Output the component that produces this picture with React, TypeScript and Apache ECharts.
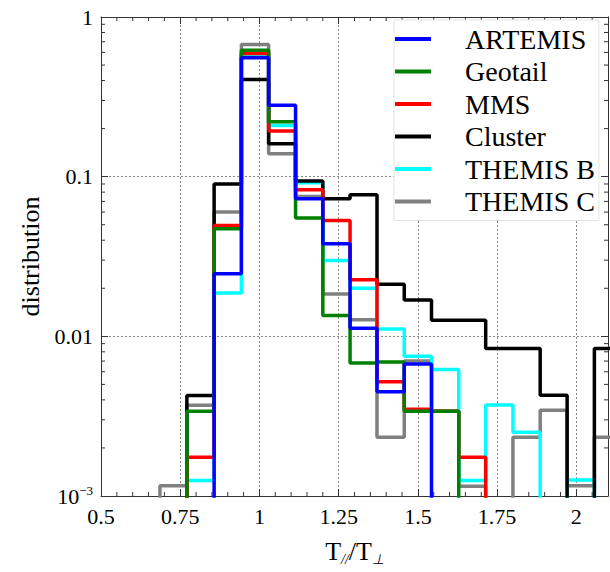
import React, { useEffect, useRef } from "react";
import * as echarts from "echarts";

// Bin edges of the histogram (T_par / T_perp)
const binEdges = [
  0.686, 0.771, 0.857, 0.943, 1.029, 1.114, 1.2, 1.286, 1.371, 1.457, 1.543,
  1.629, 1.714, 1.8, 1.886, 1.971, 2.057, 2.143,
];

const seriesNames = ["ARTEMIS", "Geotail", "MMS", "Cluster", "THEMIS B", "THEMIS C"];
const seriesColors = ["#0000ff", "#008000", "#ff0000", "#000000", "#00ffff", "#808080"];

// distribution per bin (0 = empty bin)
const artemis = [0, 0, 0.0247, 0.555, 0.28, 0.0727, 0.038, 0.01125, 0.0045, 0.0067, 0, 0, 0, 0, 0, 0, 0];
const geotail = [0, 0.0034, 0.0472, 0.62, 0.221, 0.055, 0.0135, 0.0068, 0.0069, 0.0034, 0.0034, 0, 0, 0, 0, 0, 0];
const mms = [0, 0.00175, 0.0495, 0.59, 0.193, 0.0828, 0.0532, 0.0226, 0.0052, 0.0035, 0.0034, 0.00175, 0, 0, 0, 0, 0];
const cluster = [0, 0.00426, 0.09, 0.406, 0.161, 0.094, 0.0728, 0.077, 0.0212, 0.0169, 0.0126, 0.0126, 0.0084, 0.0084, 0.00427, 0, 0.0084];
const themisB = [0, 0.00125, 0.0187, 0.57, 0.209, 0.0915, 0.0299, 0.02, 0.0111, 0.0075, 0.0062, 0.00125, 0.00372, 0.00251, 0, 0.00126, 0];
const themisC = [0.00116, 0.0037, 0.06, 0.672, 0.139, 0.075, 0.0184, 0.0127, 0.00233, 0.007, 0.0034, 0.00115, 0, 0.00233, 0.00344, 0.00116, 0.00233];

const seriesValues = [artemis, geotail, mms, cluster, themisB, themisC];

// axis decorations
const X_MIN = 0.5;
const X_MAX = 2.1;
const Y_MIN = 0.001;
const Y_MAX = 1;
const xMinorTicks = [
  0.55, 0.6, 0.65, 0.7, 0.8, 0.85, 0.9, 0.95, 1.05, 1.1, 1.15, 1.2, 1.3, 1.35, 1.4,
  1.45, 1.55, 1.6, 1.65, 1.7, 1.8, 1.85, 1.9, 1.95, 2.05,
];
const yMinorTicks = [
  0.002, 0.003, 0.004, 0.005, 0.006, 0.007, 0.008, 0.009,
  0.02, 0.03, 0.04, 0.05, 0.06, 0.07, 0.08, 0.09,
  0.2, 0.3, 0.4, 0.5, 0.6, 0.7, 0.8, 0.9,
];

const FONT = "'Liberation Serif', 'Times New Roman', serif";
const FLOOR = 1e-4;

function stepPoints(vals: number[]) {
  const pts: number[][] = [[binEdges[0], FLOOR]];
  vals.forEach((v, i) => {
    const y = v > 0 ? v : FLOOR;
    pts.push([binEdges[i], y], [binEdges[i + 1], y]);
  });
  pts.push([binEdges[binEdges.length - 1], FLOOR]);
  return pts;
}

export default function App() {
  const ref = useRef<HTMLDivElement>(null);

  useEffect(() => {
    if (!ref.current) return;
    const chart = echarts.init(ref.current, undefined, { renderer: "svg" });

    const tickStyle = { stroke: "#333", lineWidth: 1 };

    const histSeries = seriesNames
      .map((name, i) => ({
        name,
        type: "line",
        xAxisIndex: 0,
        yAxisIndex: 0,
        data: stepPoints(seriesValues[i]),
        symbol: "none",
        clip: true,
        lineStyle: { color: seriesColors[i], width: 3.5 },
        itemStyle: { color: seriesColors[i] },
        z: 3,
      }))
      .reverse();

    const option: any = {
      animation: false,
      backgroundColor: "#fff",
      grid: { left: 101, top: 17, right: 2, bottom: 76 },
      legend: {
        data: seriesNames,
        orient: "vertical",
        left: 394,
        top: 20,
        itemWidth: 36,
        itemHeight: 4,
        itemGap: 4.5,
        icon: "rect",
        padding: [5, 4, 5, 1],
        backgroundColor: "#fff",
        borderColor: "#e4e4e4",
        borderWidth: 1,
        borderRadius: 0,
        textStyle: {
          fontFamily: FONT,
          fontSize: 28,
          lineHeight: 28,
          color: "#000",
          padding: [0, 0, 0, 29],
        },
        z: 10,
      },
      xAxis: [
        {
          type: "value",
          min: X_MIN,
          max: X_MAX,
          interval: 0.25,
          position: "bottom",
          name: "{t|T}{s|//}{t|/T}{s|⊥}",
          nameLocation: "middle",
          nameGap: 40,
          nameTextStyle: {
            rich: {
              t: { fontFamily: FONT, fontSize: 26, color: "#000", lineHeight: 30 },
              s: { fontFamily: FONT, fontSize: 14, color: "#000", fontStyle: "italic", verticalAlign: "bottom", lineHeight: 14 },
            },
          },
          axisLine: { show: true, onZero: false, lineStyle: { color: "#333", width: 1 } },
          axisTick: { show: true, inside: true, length: 7, lineStyle: { color: "#333" } },
          axisLabel: {
            fontFamily: FONT,
            fontSize: 22,
            color: "#000",
            margin: 9,
            showMaxLabel: false,
            formatter: (v: number) => {
              const r = Math.round(v * 4) / 4;
              if (Math.abs(r - v) > 1e-6) return "";
              return String(Number(v.toFixed(2)));
            },
          },
          splitLine: { show: true, lineStyle: { color: "#888", type: [2, 2], width: 1 } },
        },
        {
          type: "value",
          min: X_MIN,
          max: X_MAX,
          interval: 0.25,
          position: "top",
          axisLine: { show: true, onZero: false, lineStyle: { color: "#333", width: 1 } },
          axisTick: { show: true, inside: true, length: 7, lineStyle: { color: "#333" } },
          axisLabel: { show: false },
          splitLine: { show: false },
        },
      ],
      yAxis: [
        {
          type: "log",
          logBase: 10,
          min: Y_MIN,
          max: Y_MAX,
          position: "left",
          name: "distribution",
          nameLocation: "middle",
          nameGap: 58,
          nameTextStyle: { fontFamily: FONT, fontSize: 26, color: "#000" },
          axisLine: { show: true, onZero: false, lineStyle: { color: "#333", width: 1 } },
          axisTick: { show: true, inside: true, length: 7, lineStyle: { color: "#333" } },
          axisLabel: {
            fontFamily: FONT,
            fontSize: 22,
            color: "#000",
            margin: 8,
            formatter: (v: number) => {
              const e = Math.round(Math.log10(v));
              if (e === 0) return "1";
              if (e === -1) return "0.1";
              if (e === -2) return "0.01";
              return "{b|10}{sup|−3}";
            },
            rich: {
              b: { fontFamily: FONT, fontSize: 22, color: "#000", lineHeight: 24 },
              sup: { fontFamily: FONT, fontSize: 13, color: "#000", verticalAlign: "top", lineHeight: 13 },
            },
          },
          splitLine: { show: true, lineStyle: { color: "#888", type: [2, 2], width: 1 } },
        },
        {
          type: "log",
          logBase: 10,
          min: Y_MIN,
          max: Y_MAX,
          position: "right",
          axisLine: { show: true, onZero: false, lineStyle: { color: "#333", width: 1 } },
          axisTick: { show: true, inside: true, length: 7, lineStyle: { color: "#333" } },
          axisLabel: { show: false },
          splitLine: { show: false },
        },
      ],
      series: [
        ...histSeries,
        {
          type: "custom",
          name: "yMinor",
          silent: true,
          clip: false,
          xAxisIndex: 0,
          yAxisIndex: 0,
          encode: { x: 0, y: 1 },
          data: yMinorTicks.map((v) => [X_MIN, v]),
          renderItem: (params: any, api: any) => {
            const v = api.value(1);
            const p0 = api.coord([X_MIN, v]);
            const p1 = api.coord([X_MAX, v]);
            return {
              type: "group",
              children: [
                { type: "line", shape: { x1: p0[0], y1: p0[1], x2: p0[0] + 4, y2: p0[1] }, style: tickStyle },
                { type: "line", shape: { x1: p1[0], y1: p1[1], x2: p1[0] - 4, y2: p1[1] }, style: tickStyle },
              ],
            };
          },
          z: 1,
        },
        {
          type: "custom",
          name: "xMinor",
          silent: true,
          clip: false,
          xAxisIndex: 0,
          yAxisIndex: 0,
          encode: { x: 0, y: 1 },
          data: xMinorTicks.map((v) => [v, Y_MIN]),
          renderItem: (params: any, api: any) => {
            const v = api.value(0);
            const p0 = api.coord([v, Y_MIN]);
            const p1 = api.coord([v, Y_MAX]);
            return {
              type: "group",
              children: [
                { type: "line", shape: { x1: p0[0], y1: p0[1], x2: p0[0], y2: p0[1] - 4 }, style: tickStyle },
                { type: "line", shape: { x1: p1[0], y1: p1[1], x2: p1[0], y2: p1[1] + 4 }, style: tickStyle },
              ],
            };
          },
          z: 1,
        },
      ],
    };

    chart.setOption(option);
    return () => chart.dispose();
  }, []);

  return (
    <div
      ref={ref}
      style={{ position: "fixed", left: 0, top: 0, width: 610, height: 572, background: "#fff" }}
    />
  );
}
